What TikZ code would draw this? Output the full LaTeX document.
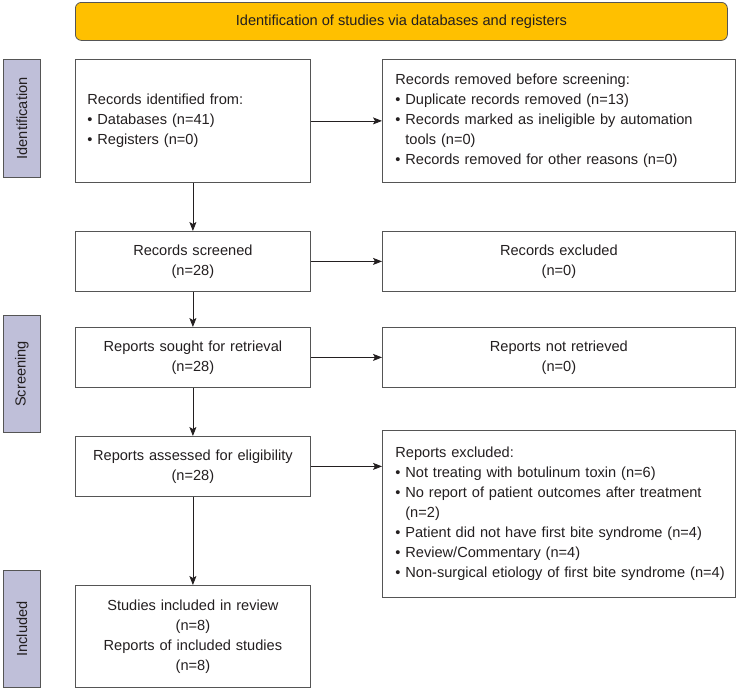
\documentclass[tikz,border=0pt]{standalone}
\usepackage{fontspec}
\setmainfont{Liberation Sans}
\usetikzlibrary{arrows.meta}
\definecolor{gold}{HTML}{FFC000}
\definecolor{lav}{HTML}{BFBFD9}
\definecolor{edgegrey}{HTML}{555555}
\definecolor{ink}{HTML}{231F20}
\newcommand{\bl}{\textbullet\ }
\newcommand{\hang}{\phantom{\textbullet\ }}
\begin{document}
\begin{tikzpicture}[x=1pt,y=-1pt,
  box/.style={draw=edgegrey, line width=0.8pt, fill=white, inner sep=0pt, anchor=north west,
    font=\fontsize{14.6}{20}\selectfont, text=ink},
  lbox/.style={box, minimum width=235pt, text width=211pt, align=left},
  cbox/.style={box, minimum width=235pt, text width=235pt, align=center},
  rlbox/.style={box, minimum width=353pt, text width=327pt, align=left},
  rcbox/.style={box, minimum width=353pt, text width=353pt, align=center},
  stage/.style={draw=edgegrey, line width=0.8pt, fill=lav, inner sep=0pt, minimum width=37pt, anchor=north west},
  stagetxt/.style={rotate=90, font=\fontsize{14.6}{16}\selectfont, text=ink},
  banner/.style={draw=edgegrey, line width=0.8pt, fill=gold, rounded corners=6pt, inner sep=0pt,
    minimum width=652pt, minimum height=38pt, anchor=north west, font=\fontsize{14.6}{16}\selectfont, text=ink},
  arr/.style={draw=ink, line width=0.8pt, -{Stealth[length=9pt,width=7pt,inset=2pt]}}
]
\useasboundingbox (0,0) rectangle (736,688);

\node[banner] (ban) at (75,2) {Identification of studies via databases and registers};

\node[stage, minimum height=118pt] (s1) at (3,59) {};
\node[stagetxt] (s1t) at (s1.center) {Identification};
\node[stage, minimum height=117pt] (s2) at (3,315) {};
\node[stagetxt] (s2t) at (s2.center) {Screening};
\node[stage, minimum height=117pt] (s3) at (3,570) {};
\node[stagetxt] (s3t) at (s3.center) {Included};

\node[lbox, minimum height=123pt] (b1) at (75,59) {Records identified from:\\ \bl Databases (n=41)\\ \bl Registers (n=0)};
\node[cbox, minimum height=60pt] (b2) at (75,231) {Records screened\\ (n=28)};
\node[cbox, minimum height=60pt] (b3) at (75,327) {Reports sought for retrieval\\ (n=28)};
\node[cbox, minimum height=60pt] (b4) at (75,436) {Reports assessed for eligibility\\ (n=28)};
\node[cbox, minimum height=102pt] (b5) at (75,585) {Studies included in review\\ (n=8)\\ Reports of included studies\\ (n=8)};

\node[rlbox, minimum height=123pt] (r1) at (382,59) {Records removed before screening:\\ \bl Duplicate records removed (n=13)\\ \mbox{\bl Records marked as ineligible by automation}\\ \hang tools (n=0)\\ \mbox{\bl Records removed for other reasons (n=0)}};
\node[rcbox, minimum height=60pt] (r2) at (382,231) {Records excluded\\ (n=0)};
\node[rcbox, minimum height=60pt] (r3) at (382,327) {Reports not retrieved\\ (n=0)};
\node[rlbox, minimum height=167pt] (r4) at (382,430) {Reports excluded:\\ \mbox{\bl Not treating with botulinum toxin (n=6)}\\ \mbox{\bl No report of patient outcomes after treatment}\\ \hang (n=2)\\ \mbox{\bl Patient did not have first bite syndrome (n=4)}\\ \bl Review/Commentary (n=4)\\ \mbox{\bl Non-surgical etiology of first bite syndrome (n=4)}};

\draw[arr] (b1.east) -- (r1.west);
\draw[arr] (b2.east) -- (r2.west);
\draw[arr] (b3.east) -- (r3.west);
\draw[arr] (b4.east) -- (b4.east -| r4.west);
\draw[arr] (b1.south) -- (b2.north);
\draw[arr] (b2.south) -- (b3.north);
\draw[arr] (b3.south) -- (b4.north);
\draw[arr] (b4.south) -- (b5.north);
\end{tikzpicture}
\end{document}
